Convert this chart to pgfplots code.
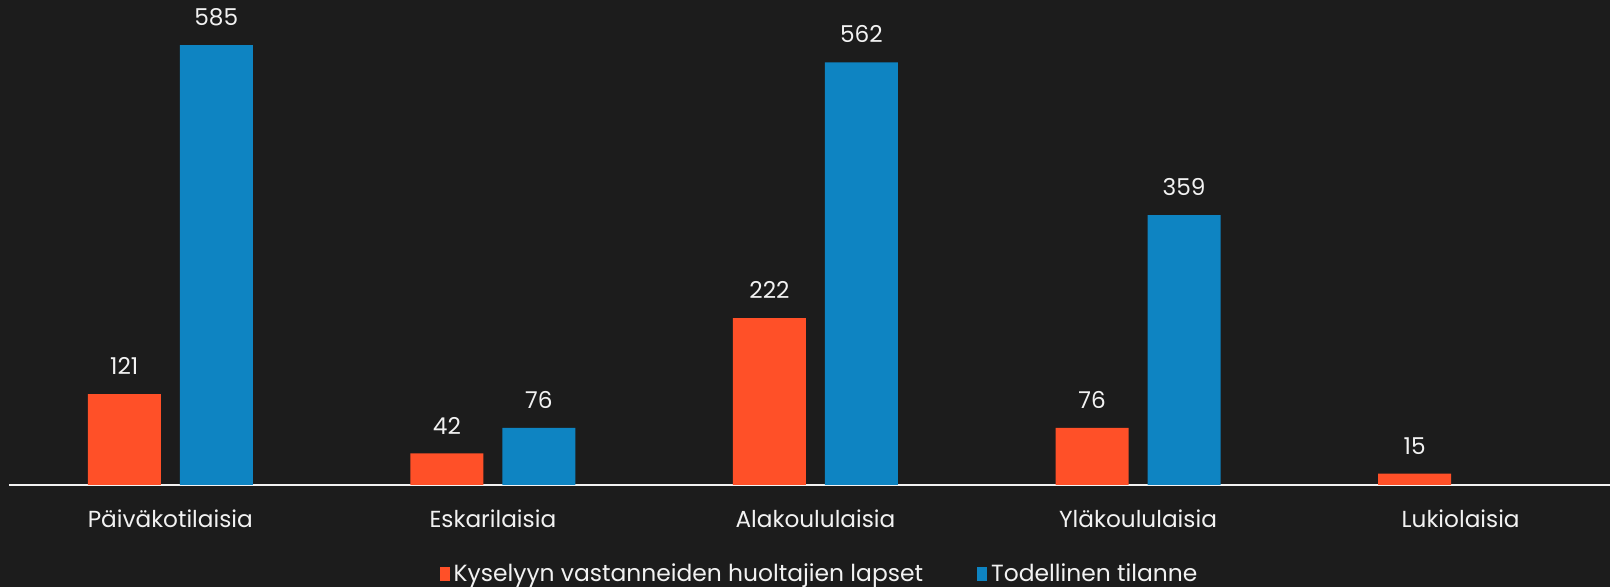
\documentclass[border=0pt]{standalone}
\usepackage{pgfplots}
\pgfplotsset{compat=1.18}
\usepackage{fontspec}
\setmainfont{Poppins}
\definecolor{bg}{HTML}{1C1C1C}
\definecolor{ora}{HTML}{FF5028}
\definecolor{blu}{HTML}{0E84C2}
\definecolor{txt}{HTML}{F2F2F2}
\begin{document}
\begin{tikzpicture}
\fill[bg] (-4.5pt,-51pt) rectangle (800.5pt,242.5pt);
\useasboundingbox (-4.5pt,-51pt) rectangle (800.5pt,242.5pt);
\begin{axis}[at={(0pt,0pt)}, anchor=south west, scale only axis,
  width=800.5pt, height=242.5pt,
  xmin=-0.5, xmax=4.463, ymin=0, ymax=645,
  axis x line*=bottom, axis y line=none,
  x axis line style={txt, line width=0.8pt, -},
  xtick={0,...,4},
  xticklabels={Päiväkotilaisia,Eskarilaisia,Alakoululaisia,Yläkoululaisia,Lukiolaisia},
  major tick length=0pt,
  xticklabel style={text=txt, font=\fontsize{11.6}{13}\selectfont, anchor=base, yshift=-21.5pt},
  clip=false,
  /pgf/number format/assume math mode=true,
  nodes near coords,
  every node near coord/.append style={text=txt, font=\fontsize{11.6}{13}\selectfont, inner sep=0pt, yshift=9.5pt},
  legend style={at={(rel axis cs:0.265,-0.1835)}, anchor=west, draw=none, fill=none,
    text=txt, font=\fontsize{11.7}{13}\selectfont, legend columns=2,
    /tikz/every even column/.append style={column sep=25pt}},
]
\addplot[ybar, fill=ora, draw=none, bar width=36.5pt, bar shift=-23pt,
  every node near coord/.append style={xshift=-23pt},
  legend image code/.code={\fill[ora] (0pt,-3.5pt) rectangle (5pt,3.5pt);}]
  coordinates {(0,121) (1,42) (2,222) (3,76) (4,15)};
\addlegendentry{Kyselyyn vastanneiden huoltajien lapset}
\addplot[ybar, fill=blu, draw=none, bar width=36.5pt, bar shift=23pt,
  every node near coord/.append style={xshift=23pt},
  legend image code/.code={\fill[blu] (0pt,-3.5pt) rectangle (5pt,3.5pt);}]
  coordinates {(0,585) (1,76) (2,562) (3,359)};
\addlegendentry{Todellinen tilanne}
\end{axis}
\end{tikzpicture}
\end{document}
